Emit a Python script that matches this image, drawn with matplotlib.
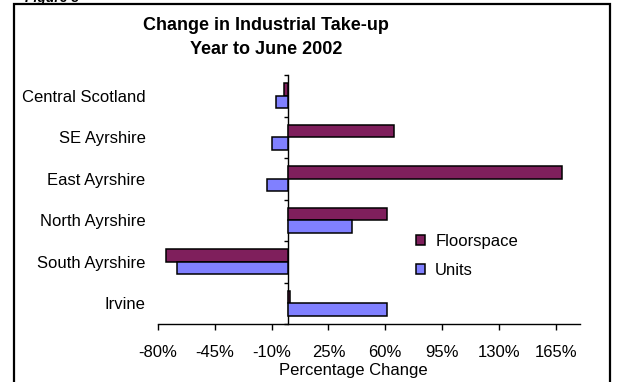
import matplotlib
matplotlib.use("Agg")
import matplotlib.pyplot as plt
from matplotlib.patches import Rectangle
import numpy as np

plt.rcParams['font.family'] = ['Liberation Sans', 'DejaVu Sans']

regions = ["Central Scotland", "SE Ayrshire", "East Ayrshire",
           "North Ayrshire", "South Ayrshire", "Irvine"]
floorspace = [-2.5, 65.5, 169.0, 61.0, -75.0, 1.5]
units = [-7.0, -9.5, -13.0, 39.5, -68.5, 61.0]
xticks = [-80, -45, -10, 25, 60, 95, 130, 165]

floor_color = "#7f1f5c"
units_color = "#8080ff"

fig = plt.figure(figsize=(6.19, 3.82), dpi=100)
W, H = 619, 382
ax = fig.add_axes([158 / W, 1 - 324 / H, (580 - 158) / W, (324 - 75) / H])

n = len(regions)
pos = np.arange(n)[::-1]  # first region at top
bh = 0.3
ax.barh(pos + bh / 2, floorspace, height=bh, color=floor_color,
        edgecolor="black", linewidth=1.1, label="Floorspace", zorder=2)
ax.barh(pos - bh / 2, units, height=bh, color=units_color,
        edgecolor="black", linewidth=1.1, label="Units", zorder=2)

ax.set_xlim(-80, 180)
ax.set_ylim(-0.5, n - 0.5)
ax.set_xticks(xticks)
ax.set_xticklabels([f"{v}%" for v in xticks])
ax.tick_params(axis="x", direction="out", length=4, width=1, pad=11,
               labelsize=12)

ax.set_yticks(pos)
ax.set_yticklabels(regions)
ax.tick_params(axis="y", length=0, pad=9, labelsize=12)

for s in ["top", "right", "left"]:
    ax.spines[s].set_visible(False)
ax.spines["bottom"].set_linewidth(1.0)

# vertical category axis drawn through zero
zero_frac = (0 - (-80)) / (180 - (-80))
sec = ax.secondary_yaxis(zero_frac)
sec.set_yticks(np.arange(-0.5, n, 1.0))
sec.set_yticklabels([])
sec.tick_params(direction="out", length=3, width=1)
sec.spines["left"].set_linewidth(1.0)

ax.set_xlabel("Percentage Change", fontsize=12)
ax.xaxis.set_label_coords(0.464, -0.155)

leg = ax.legend(loc="center left",
                bbox_to_anchor=((416 - 158) / 422, (324 - 256) / 249),
                frameon=False, fontsize=12, handlelength=0.55,
                handleheight=0.55, handletextpad=0.6, labelspacing=0.85,
                borderpad=0, borderaxespad=0)

fig.text(266 / W, 1 - 25 / H, "Change in Industrial Take-up",
         ha="center", va="center", fontsize=13, fontweight="bold")
fig.text(266 / W, 1 - 50 / H, "Year to June 2002",
         ha="center", va="center", fontsize=13, fontweight="bold")

fig.text(25 / W, 1 - 2 / H, "Figure 3", ha="left", va="baseline",
         fontsize=10, fontweight="bold", fontstyle="italic")

fig.patches.append(Rectangle((14 / W, -0.05), (610 - 14) / W, 1.05 - 4 / H,
                             transform=fig.transFigure, fill=False,
                             edgecolor="black", linewidth=1.6))

fig.savefig("out.png", dpi=100)
